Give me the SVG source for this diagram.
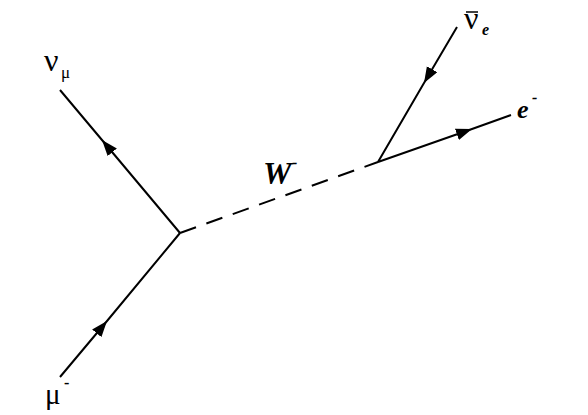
<svg xmlns="http://www.w3.org/2000/svg" width="588" height="415" viewBox="0 0 588 415">
<style>
.f{fill:none;stroke:#000;stroke-width:2}
.d{fill:none;stroke:#000;stroke-width:2;stroke-dasharray:17,11}
.t{font-family:"Liberation Serif",serif;fill:#000}
.bi{font-family:"Liberation Serif",serif;font-weight:bold;font-style:italic;fill:#000}
</style>
<defs>
<marker id="ar" markerUnits="userSpaceOnUse" markerWidth="18" markerHeight="14" refX="16" refY="6" orient="auto">
<path d="M0,0 L16,6 L0,12 z" fill="#000"/>
</marker>
</defs>
<rect width="588" height="415" fill="#fff"/>
<g id="connectors">
<path class="f" d="M180,233 L102,140 L60,90" marker-mid="url(#ar)"/>
<path class="f" d="M60,377 L107,321 L180,233" marker-mid="url(#ar)"/>
<path class="d" d="M180,233 L378,162"/>
<path class="f" d="M457,27 L424,83 L378,162" marker-mid="url(#ar)"/>
<path class="f" d="M378,162 L472,129 L511,115" marker-mid="url(#ar)"/>
</g>
<g id="numu"><text class="t" x="44" y="71" font-size="32">ν</text><text class="t" x="61" y="78" font-size="17">μ</text></g>
<g id="mu"><text class="t" x="45" y="404" font-size="29">μ</text><text class="t" x="64" y="388" font-size="16" font-weight="bold">-</text></g>
<g id="W"><text class="bi" x="263" y="184" font-size="32">W</text><text class="bi" x="292" y="168" font-size="16">-</text></g>
<g id="nue"><text class="t" x="464" y="29" font-size="32">ν</text><line x1="466" y1="12" x2="478" y2="12" stroke="#000" stroke-width="1.5"/><text class="bi" x="482" y="35" font-size="16">e</text></g>
<g id="e"><text class="bi" x="517" y="118" font-size="26">e</text><text class="bi" x="532" y="103" font-size="16">-</text></g>
</svg>
